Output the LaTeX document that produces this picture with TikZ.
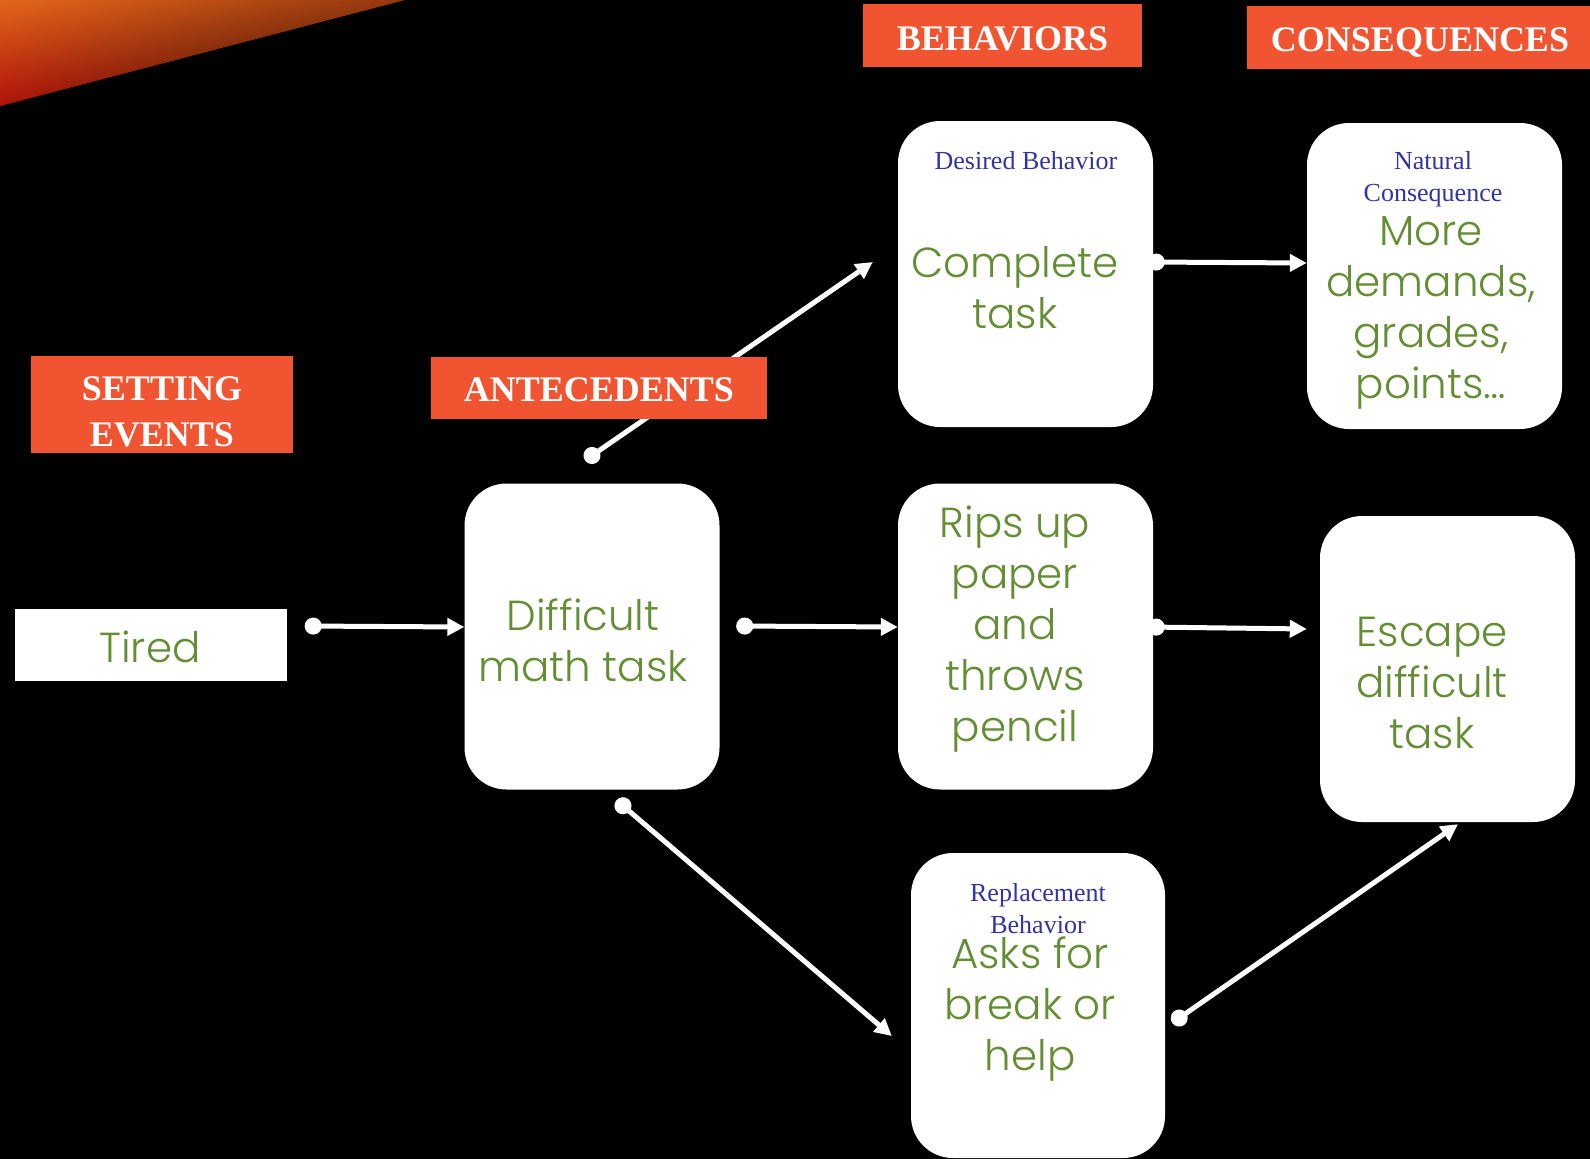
\documentclass[tikz,border=0pt]{standalone}
\usepackage{fontspec}
\setmainfont{Liberation Serif}
\newfontfamily\greenfont{Poppins}[UprightFont=* Light]
\usetikzlibrary{arrows.meta,shadings}
\definecolor{bannerorange}{RGB}{240,84,48}
\definecolor{textgreen}{RGB}{100,142,52}
\definecolor{labelblue}{RGB}{52,52,160}
\definecolor{flareorange}{RGB}{228,102,26}
\definecolor{flarered}{RGB}{175,18,10}
\definecolor{flaredark}{RGB}{150,55,14}
\tikzset{
  banner/.style={fill=bannerorange, text=white, inner sep=0pt, align=center,
    font=\fontsize{36}{46}\selectfont\bfseries},
  card/.style={fill=white, rounded corners=42pt, inner sep=0pt,
    minimum width=255pt, minimum height=306pt},
  cardtext/.style={text=textgreen, align=center,
    font=\greenfont\fontsize{42}{51}\selectfont},
  cardlabel/.style={text=labelblue, align=center,
    font=\fontsize{26}{32}\selectfont},
  flow/.style={draw=white, line width=5pt,
    {Circle[length=17pt]}-{Triangle[length=17pt,width=17pt]}}
}
\begin{document}
\begin{tikzpicture}[x=1pt,y=-1pt]
    \fill[black] (0,0) rectangle (1590,1159);
    \useasboundingbox (0,0) rectangle (1590,1159);
    % flare in the corner
    \shade[upper left=flareorange, lower left=flarered, upper right=flaredark, lower right=black]
        (0,0) -- (405,0) -- (0,106) -- cycle;
    % boxes
    \node[fill=white, minimum width=272pt, minimum height=72pt, inner sep=0pt] (tired) at (151,645) {};
    \node[card] (task) at (592,636.5) {};
    \node[card] (complete) at (1025.5,274) {};
    \node[card] (rips) at (1025.5,636.5) {};
    \node[card] (more) at (1434.5,276) {};
    \node[card] (escape) at (1447.5,669) {};
    \node[card, minimum width=254pt, minimum height=305pt] (asks) at (1038,1005.5) {};
    % texts in the boxes
    \node[cardtext] (tiredtext) at (150,647) {Tired};
    \node[cardtext] (tasktext) at (583,640) {Difficult\\math task};
    \node[cardlabel] (desired) at (1026,161) {Desired Behavior};
    \node[cardtext] (completetext) at (1015,288) {Complete\\task};
    \node[cardlabel] (natural) at (1433,179) {Natural\\Consequence};
    \node[cardtext] (moretext) at (1431,313) {More\\demands,\\grades,\\points…};
    \node[cardtext] (ripstext) at (1015,629) {Rips up\\paper\\and\\throws\\pencil};
    \node[cardtext] (escapetext) at (1432,683) {Escape\\difficult\\task};
    \node[cardlabel] (replacement) at (1038,909) {Replacement\\Behavior};
    \node[cardtext] (askstext) at (1030,1009) {Asks for\\break or\\help};
    % arrows
    \draw[flow] ([xshift=17.5pt,yshift=19pt]tired.east) -- ([yshift=9.5pt]task.west);
    \draw[flow] ([xshift=16.5pt,yshift=10.5pt]task.east) -- ([yshift=9.5pt]rips.west);
    \draw[flow] ([xshift=-7pt,yshift=23pt]task.north) -- ([xshift=-25pt,yshift=12pt]complete.west);
    \draw[flow] ([xshift=24.5pt,yshift=-10.5pt]task.south) -- ([xshift=-19pt,yshift=-30.5pt]asks.west);
    \draw[flow] ([xshift=-5.5pt,yshift=12pt]complete.east) -- ([yshift=13pt]more.west);
    \draw[flow] ([xshift=-5.5pt,yshift=9.5pt]rips.east) -- ([xshift=-13pt,yshift=40pt]escape.west);
    \draw[flow] ([xshift=7pt,yshift=-17.4pt]asks.east) -- ([xshift=10.5pt,yshift=-2pt]escape.south);
    % headings
    \node[banner, minimum width=279pt, minimum height=63pt, text height=30pt, text depth=0pt] (behaviors) at (1002.5,35.5) {BEHAVIORS};
    \node[banner, minimum width=346pt, minimum height=63pt, text height=28pt, text depth=0pt] (consequences) at (1420,37.5) {CONSEQUENCES};
    \node[banner, minimum width=262pt, minimum height=97pt] (setting) at (162,404.5) {\rule{0pt}{38pt}SETTING\\EVENTS};
    \node[banner, minimum width=336pt, minimum height=62pt, text height=27pt, text depth=0pt] (antecedents) at (599,388) {ANTECEDENTS};
\end{tikzpicture}
\end{document}
